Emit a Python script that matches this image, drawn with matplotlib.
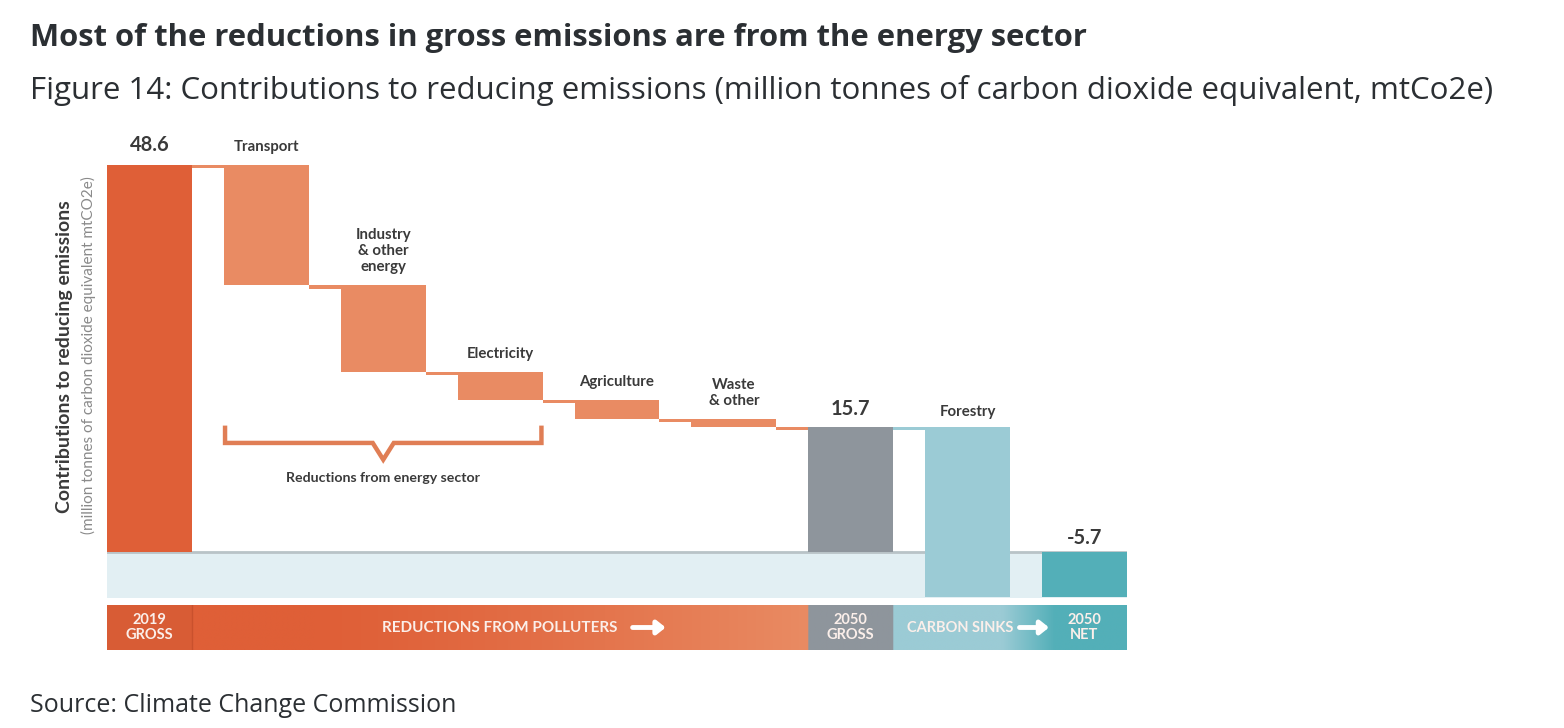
import numpy as np
import matplotlib.pyplot as plt
from matplotlib.colors import to_rgb

# data
categories = ["2019 gross", "Transport", "Industry\n& other\nenergy", "Electricity",
              "Agriculture", "Waste\n& other", "2050 gross", "Forestry", "2050 net"]
gross_2019 = 48.6
sector_cuts = [15.1, 10.9, 3.5, 2.4, 1.0]
gross_2050 = 15.7
forestry_cut = 21.4
net_2050 = -5.7
strip_labels = ["2019\nGROSS", "REDUCTIONS FROM POLLUTERS", "2050\nGROSS", "CARBON SINKS", "2050\nNET"]

C2019 = "#DF5F37"
CRED = "#E98B63"
CGROSS = "#8E959C"
CFOREST = "#9BCBD5"
CNET = "#53AFB8"
CBAND = "#E2EFF3"
TXT = "#3A3A3A"

plt.rcParams["font.family"] = ["Lato", "DejaVu Sans"]

W, H = 1564, 728
fig = plt.figure(figsize=(W / 100, H / 100), dpi=100)

def px_axes(x0, y0, x1, y1):
    return fig.add_axes([x0 / W, 1 - y1 / H, (x1 - x0) / W, (y1 - y0) / H])

ax = px_axes(107, 140, 1127, 598)
bw = 0.727
x = np.arange(len(categories))
ax.set_xlim(-bw / 2, len(categories) - 1 + bw / 2)
ax.set_ylim(-5.78, 51.76)
ax.axis("off")

# light band below zero and the zero line
ax.axhspan(-6, 0, color=CBAND, zorder=0)
ax.axhline(0, color="#B9C3C7", lw=2, zorder=1)

# waterfall bars
tops, bottoms, colors = [gross_2019], [0], [C2019]
level = gross_2019
for cut in sector_cuts:
    tops.append(level)
    bottoms.append(level - cut)
    colors.append(CRED)
    level -= cut
tops.append(gross_2050); bottoms.append(0); colors.append(CGROSS)
tops.append(gross_2050); bottoms.append(gross_2050 - forestry_cut); colors.append(CFOREST)
tops.append(0); bottoms.append(net_2050); colors.append(CNET)
tops = np.array(tops); bottoms = np.array(bottoms)

ax.bar(x, tops - bottoms, bottom=bottoms, width=bw, color=colors, zorder=2)

# connectors (thin strip hanging just below each running level)
conn_levels = [gross_2019] + list(bottoms[1:6]) + [gross_2050]
for i in range(7):
    c = CFOREST if i == 6 else CRED
    ax.bar((x[i] + x[i + 1]) / 2, 0.4, bottom=conn_levels[i] - 0.4,
           width=1 - bw, color=c, zorder=2)

# labels above bars
lab_kw = dict(textcoords="offset points", ha="center", va="bottom", color=TXT)
ax.annotate(f"{gross_2019}", (x[0], tops[0]), xytext=(0, 7), fontsize=14.5,
            fontweight="bold", **lab_kw)
for i in range(1, 6):
    ax.annotate(categories[i], (x[i], tops[i]), xytext=(0, 8), fontsize=10.8,
                fontweight="bold", linespacing=1.2, **lab_kw)
ax.annotate(f"{gross_2050}", (x[6], tops[6]), xytext=(0, 6), fontsize=14.5,
            fontweight="bold", **lab_kw)
ax.annotate(categories[7], (x[7], tops[7]), xytext=(0, 6), fontsize=10.8,
            fontweight="bold", **lab_kw)
ax.annotate(f"{net_2050}", (x[8], 0), xytext=(0, 3), fontsize=14.5,
            fontweight="bold", **lab_kw)

# bracket over energy sector bars
bl, br, bc = x[1] - bw / 2 + 0.01, x[3] + bw / 2 - 0.01, x[2]
by, btop, bnotch = 13.7, 15.6, 11.6
ax.plot([bl, bl, bc - 0.09, bc, bc + 0.09, br, br],
        [btop, by, by, bnotch, by, by, btop],
        color="#E07E55", lw=3.2, solid_joinstyle="miter", zorder=2)
ax.text(bc, 9.3, "Reductions from energy sector", ha="center", va="center",
        fontsize=10.2, fontweight="bold", color=TXT)

# category strip
sx = px_axes(107, 605, 1127, 650)
sx.set_xlim(ax.get_xlim())
sx.set_ylim(0, 1)
sx.axis("off")
xs = np.linspace(*ax.get_xlim(), 1200)
img = np.zeros((1, len(xs), 3))
a, b, c, d = to_rgb(C2019), to_rgb(CRED), to_rgb(CFOREST), to_rgb(CNET)
for k, xv in enumerate(xs):
    if xv < x[0] + bw / 2:
        col = np.array(a) * 0.97
    elif xv < x[6] - bw / 2:
        t = (xv - (x[0] + bw / 2)) / ((x[6] - bw / 2) - (x[0] + bw / 2))
        t = np.clip((t - 0.2) / 0.8, 0, 1) ** 1.3
        col = (1 - t) * np.array(a) + t * np.array(b)
    elif xv < x[6] + bw / 2:
        col = np.array(to_rgb(CGROSS))
    else:
        t = np.clip((xv - 7.3) / 0.45, 0, 1)
        col = (1 - t) * np.array(c) + t * np.array(d)
    img[0, k] = col
sx.imshow(img, aspect="auto", extent=(xs[0], xs[-1], 0, 1), interpolation="bilinear")
sx.axvline(x[0] + bw / 2, color="#C9512D", lw=1)

sk = dict(va="center", color="#FBEFEA", fontweight="bold", linespacing=1.05)
sx.text(x[0], 0.5, strip_labels[0], fontsize=10.5, ha="center", **sk)
sx.text(4.0, 0.5, strip_labels[1], fontsize=11, ha="right", **sk)
sx.text(x[6], 0.5, strip_labels[2], fontsize=10.5, ha="center", **sk)
sx.text(6.94, 0.5, strip_labels[3], fontsize=10.5, ha="center", **sk)
sx.text(x[8], 0.5, strip_labels[4], fontsize=10.5, ha="center", **sk)
arrow = dict(arrowstyle="-|>,head_length=0.5,head_width=0.4", color="white", lw=3.5)
sx.annotate("", xy=(4.44, 0.5), xytext=(4.11, 0.5), arrowprops=arrow)
sx.annotate("", xy=(7.72, 0.5), xytext=(7.42, 0.5), arrowprops=arrow)

# axis titles
fig.text(65 / W, 1 - 357 / H, "Contributions to reducing emissions", rotation=90,
         ha="center", va="center", fontsize=14, fontweight="bold", color=TXT)
fig.text(88 / W, 1 - 355 / H, "(million tonnes of carbon dioxide equivalent mtCO2e)",
         rotation=90, ha="center", va="center", fontsize=11, color="#8A8A8A")

# headline, figure caption, source
fig.text(30 / W, 1 - 38 / H, "Most of the reductions in gross emissions are from the energy sector",
         ha="left", va="center", fontsize=22.3, fontweight="bold", color="#2B2F33",
         family=["Open Sans", "DejaVu Sans"])
fig.text(30 / W, 1 - 90 / H,
         "Figure 14: Contributions to reducing emissions (million tonnes of carbon dioxide equivalent, mtCo2e)",
         ha="left", va="center", fontsize=22.5, color="#2B2F33", family=["Open Sans", "DejaVu Sans"])
fig.text(30 / W, 1 - 705 / H, "Source: Climate Change Commission", ha="left", va="center",
         fontsize=18, color="#2B2F33", family=["Open Sans", "DejaVu Sans"])

fig.savefig("out.png", dpi=100, facecolor="white")
